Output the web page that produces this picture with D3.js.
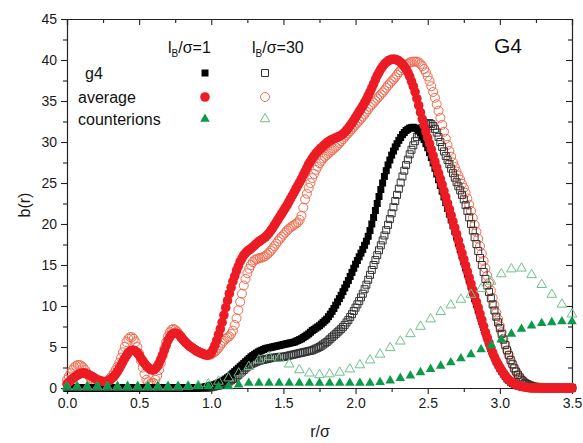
<!DOCTYPE html>
<html><head><meta charset="utf-8">
<script src="https://cdn.jsdelivr.net/npm/d3@7"></script>
<style>html,body{margin:0;padding:0;background:#fff;}svg{display:block;font-family:"Liberation Sans",Arial,sans-serif;}</style>
</head><body>
<svg id="chart" width="583" height="443"></svg>
<script>
// sampling grids (r/σ)
const denseStep = 0.0125;  // dense series: one value every 0.0125 from r=0
const sparseStep = 0.07;   // counterion series: one value every 0.07 from r=0

// average, lB/σ=1 (filled red circles)
const avgL1 = [
0.5,0.7,0.9,1.1,1.3,1.45,1.6,1.7,1.8,1.85,1.8,1.7,1.6,1.5,1.4,1.25,1.1,1.0,0.9,0.85,
0.8,0.78,0.8,0.88,1.0,1.2,1.4,1.7,2.0,2.4,2.8,3.2,3.6,3.95,4.3,4.5,4.6,4.6,4.5,4.3,
4.0,3.65,3.3,3.0,2.7,2.5,2.3,2.2,2.2,2.35,2.6,3.0,3.5,4.05,4.6,5.2,5.8,6.2,6.5,6.65,
6.7,6.65,6.5,6.25,6.0,5.75,5.5,5.3,5.1,4.95,4.8,4.65,4.5,4.4,4.3,4.2,4.1,4.05,4.0,4.1,
4.3,4.7,5.2,5.8,6.5,7.2,8.0,8.9,9.8,10.65,11.5,12.25,13.0,13.65,14.3,14.85,15.4,15.8,16.2,16.45,
16.7,16.85,17.0,17.2,17.4,17.6,17.8,17.95,18.1,18.25,18.4,18.65,18.9,19.2,19.5,19.85,20.2,20.55,20.9,21.25,
21.6,21.95,22.3,22.7,23.1,23.5,23.9,24.3,24.7,25.1,25.5,25.95,26.4,26.85,27.3,27.65,28.0,28.3,28.6,28.85,
29.1,29.3,29.5,29.7,29.9,30.05,30.2,30.3,30.4,30.5,30.6,30.7,30.8,31.0,31.2,31.45,31.7,32.0,32.3,32.65,
33.0,33.35,33.7,34.05,34.4,34.8,35.2,35.65,36.1,36.6,37.1,37.6,38.1,38.5,38.9,39.2,39.5,39.7,39.9,40.0,
40.1,40.1,40.1,40.0,39.9,39.7,39.5,39.2,38.9,38.5,38.0,37.4,36.8,36.1,35.3,34.45,33.6,32.8,32.0,31.25,
30.5,29.8,29.1,28.35,27.6,26.9,26.2,25.5,24.8,24.05,23.3,22.55,21.8,21.05,20.3,19.55,18.8,18.0,17.2,16.45,
15.7,14.95,14.2,13.45,12.7,11.95,11.2,10.5,9.8,9.05,8.3,7.55,6.8,6.15,5.5,4.9,4.3,3.8,3.3,2.9,
2.5,2.15,1.8,1.5,1.2,1.0,0.8,0.65,0.5,0.4,0.3,0.25,0.2,0.15,0.1,0.07,0.05,0.02,0,0,
0,0,0,0,0,0,0,0,0,0,0,0,0,0,0,0,0,0,0,0,0];

// average, lB/σ=30 (open red circles)
const avgL30 = [
1.0,1.4,1.8,2.2,2.5,2.7,2.8,2.8,2.7,2.5,2.2,1.85,1.5,1.2,0.9,0.75,0.6,0.55,0.5,0.55,
0.6,0.7,0.8,1.0,1.2,1.5,1.8,2.2,2.6,3.1,3.7,4.35,5.0,5.6,6.0,6.2,6.2,6.0,5.6,5.0,
4.2,3.35,2.5,1.7,1.0,0.7,0.5,0.5,0.6,1.0,1.5,2.2,3.0,3.9,4.8,5.6,6.3,6.8,7.1,7.2,
7.1,6.9,6.6,6.3,6.0,5.75,5.5,5.3,5.1,4.95,4.8,4.65,4.5,4.4,4.3,4.2,4.1,4.05,4.0,4.05,
4.1,4.25,4.4,4.65,4.9,5.2,5.5,5.75,6.0,6.15,6.3,6.6,7.0,7.7,8.5,9.5,10.5,11.5,12.5,13.3,
14.0,14.55,15.0,15.35,15.6,15.7,15.8,15.85,15.9,16.0,16.1,16.3,16.5,16.75,17.0,17.3,17.6,17.9,18.2,18.45,
18.7,18.95,19.2,19.4,19.6,19.75,19.9,20.05,20.2,20.5,21.0,22.0,23.0,23.7,24.4,25.0,25.6,26.1,26.6,27.0,
27.4,27.7,28.0,28.2,28.4,28.6,28.8,29.0,29.2,29.4,29.6,29.85,30.1,30.35,30.6,30.85,31.1,31.35,31.6,31.85,
32.1,32.35,32.6,32.85,33.1,33.4,33.7,34.0,34.3,34.55,34.8,35.05,35.3,35.55,35.8,36.05,36.3,36.6,36.9,37.15,
37.4,37.65,37.9,38.2,38.5,38.75,39.0,39.2,39.4,39.55,39.7,39.75,39.8,39.8,39.8,39.7,39.5,39.25,38.9,38.5,
38.0,37.45,36.8,36.1,35.4,34.6,33.8,32.95,32.1,31.25,30.4,29.65,28.9,28.2,27.5,26.95,26.4,25.9,25.4,24.9,
24.4,23.8,23.1,22.35,21.6,20.75,19.9,19.05,18.2,17.3,16.4,15.5,14.6,13.7,12.8,11.9,11.0,10.1,9.2,8.4,
7.6,6.8,6.0,5.3,4.6,4.0,3.4,2.9,2.4,2.0,1.6,1.3,1.0,0.8,0.6,0.47,0.35,0.27,0.2,0.15,
0.1,0.07,0.05,0.02,0,0,0,0,0,0,0,0,0,0,0,0,0,0,0,0,0];

// g4, lB/σ=1 (filled black squares)
const g4L1 = [
0,0,0,0,0,0,0,0,0,0,0,0,0,0,0,0,0,0,0,0,
0,0,0,0,0,0,0,0,0,0,0,0,0,0,0,0,0,0,0,0,
0,0,0,0,0,0,0,0,0,0,0,0,0,0,0,0,0,0,0,0,
0,0,0,0,0,0,0,0,0,0,0,0,0,0.02,0.05,0.07,0.1,0.15,0.2,0.25,
0.3,0.35,0.4,0.5,0.6,0.7,0.8,0.95,1.1,1.25,1.4,1.6,1.8,2.0,2.2,2.4,2.6,2.8,3.0,3.2,
3.4,3.6,3.8,3.95,4.1,4.25,4.4,4.5,4.6,4.7,4.8,4.85,4.9,4.95,5.0,5.05,5.1,5.15,5.2,5.25,
5.3,5.35,5.4,5.45,5.5,5.55,5.6,5.7,5.8,5.9,6.0,6.15,6.3,6.45,6.6,6.8,7.0,7.15,7.3,7.45,
7.6,7.8,8.0,8.2,8.4,8.7,9.0,9.35,9.7,10.1,10.5,10.9,11.3,11.75,12.2,12.65,13.1,13.6,14.1,14.6,
15.1,15.55,16.0,16.45,16.9,17.4,17.9,18.5,19.2,20.0,20.8,21.65,22.5,23.35,24.2,25.0,25.8,26.5,27.2,27.8,
28.4,28.9,29.4,29.8,30.2,30.55,30.9,31.15,31.4,31.55,31.7,31.75,31.8,31.7,31.6,31.35,31.1,30.7,30.3,29.8,
29.3,28.7,28.1,27.45,26.8,26.1,25.4,24.7,24.0,23.3,22.6,21.9,21.2,20.5,19.8,19.1,18.4,17.65,16.9,16.15,
15.4,14.65,13.9,13.15,12.4,11.65,10.9,10.2,9.5,8.8,8.1,7.4,6.7,6.05,5.4,4.8,4.2,3.7,3.2,2.8,
2.4,2.05,1.7,1.4,1.1,0.9,0.7,0.55,0.4,0.32,0.25,0.2,0.15,0.12,0.1,0.07,0.05,0.02,0,0,
0,0,0,0,0,0,0,0,0,0,0,0,0,0,0,0,0,0,0,0,0];

// g4, lB/σ=30 (open black squares)
const g4L30 = [
0,0,0,0,0,0,0,0,0,0,0,0,0,0,0,0,0,0,0,0,
0,0,0,0,0,0,0,0,0,0,0,0,0,0,0,0,0,0,0,0,
0,0,0,0,0,0,0,0,0,0,0,0,0,0,0,0,0,0,0,0,
0,0,0,0,0,0,0,0,0,0,0,0,0,0,0,0,0,0.02,0.05,0.07,
0.1,0.15,0.2,0.25,0.3,0.35,0.4,0.5,0.6,0.7,0.8,0.95,1.1,1.25,1.4,1.6,1.8,2.0,2.2,2.4,
2.6,2.75,2.9,3.0,3.1,3.2,3.3,3.35,3.4,3.45,3.5,3.55,3.6,3.65,3.7,3.7,3.7,3.75,3.8,3.8,
3.8,3.85,3.9,3.95,4.0,4.05,4.1,4.15,4.2,4.25,4.3,4.35,4.4,4.45,4.5,4.55,4.6,4.7,4.8,4.9,
5.0,5.15,5.3,5.45,5.6,5.8,6.0,6.2,6.4,6.6,6.8,7.0,7.2,7.45,7.7,8.0,8.3,8.65,9.0,9.4,
9.8,10.2,10.6,11.05,11.5,12.05,12.6,13.2,13.8,14.4,15.0,15.6,16.2,16.8,17.4,18.0,18.6,19.25,19.9,20.6,
21.3,22.05,22.8,23.55,24.3,25.05,25.8,26.5,27.2,27.85,28.5,29.05,29.6,30.1,30.6,31.0,31.4,31.7,32.0,32.15,
32.3,32.3,32.2,31.95,31.6,31.15,30.6,30.0,29.4,28.85,28.3,27.8,27.3,26.75,26.2,25.65,25.1,24.6,24.1,23.55,
23.0,22.3,21.6,20.8,20.0,19.2,18.4,17.55,16.7,15.85,15.0,14.15,13.3,12.5,11.7,10.95,10.2,9.45,8.7,8.0,
7.3,6.6,5.9,5.25,4.6,4.0,3.4,2.9,2.4,2.0,1.6,1.3,1.0,0.8,0.6,0.5,0.4,0.3,0.2,0.15,
0.1,0.07,0.05,0.02,0,0,0,0,0,0,0,0,0,0,0,0,0,0,0,0,0];

// counterions, lB/σ=1 (filled green triangles)
const ciL1 = [0.2,0.2,0.2,0.2,0.2,0.2,0.2,0.2,0.2,0.2,0.2,0.2,0.2,0.2,0.2,0.2,0.2,0.4,0.6,0.6,
0.6,0.6,0.6,0.6,0.6,0.6,0.6,0.6,0.6,0.6,0.6,0.7,0.9,1.2,1.5,1.9,2.3,2.7,3.1,3.6,
4.1,4.7,5.2,5.9,6.6,7.2,7.6,7.9,8.0,8.1,8.1];

// counterions, lB/σ=30 (open green triangles)
const ciL30 = [0.1,0.1,0.1,0.1,0.1,0.1,0.1,0.1,0.1,0.1,0.1,0.1,0.2,0.3,0.5,0.8,1.2,1.8,2.6,3.4,
3.8,3.6,2.9,2.2,1.8,1.6,1.7,1.9,2.3,2.8,3.4,4.1,4.9,5.7,6.6,7.5,8.4,9.3,10.1,10.8,
11.4,12.1,13.0,13.9,14.5,14.6,13.8,12.6,11.4,10.2,9.0];

const xTickValues = [0, 0.5, 1.0, 1.5, 2.0, 2.5, 3.0, 3.5];
const yTickValues = [0, 5, 10, 15, 20, 25, 30, 35, 40, 45];
const legendRows = ["g4", "average", "counterions"];

const svg = d3.select("#chart");
const M = {left: 67, right: 572, top: 19, bottom: 388};
const x = d3.scaleLinear().domain([0, 3.5]).range([M.left, M.right]);
const y = d3.scaleLinear().domain([0, 45]).range([M.bottom, M.top]);

const minorX = d3.range(0, 3.5001, 0.25).filter(v => Math.abs(v*2 - Math.round(v*2)) > 1e-6);
const minorY = d3.range(2.5, 45, 5);

function styleAxis(g){
  g.selectAll(".domain").attr("stroke","#222").attr("stroke-width",1.2);
  g.selectAll(".tick line").attr("stroke","#222").attr("stroke-width",1.1);
  g.selectAll("text").attr("font-size","14px").attr("fill","#1a1a1a");
}
const gb = svg.append("g").attr("transform",`translate(0,${M.bottom})`)
  .call(d3.axisBottom(x).tickValues(xTickValues).tickFormat(d3.format(".1f")).tickSize(6).tickPadding(4));
styleAxis(gb);
svg.append("g").attr("transform",`translate(0,${M.bottom})`)
  .call(d3.axisBottom(x).tickValues(minorX).tickFormat("").tickSize(4)).call(g=>{g.select(".domain").remove();styleAxis(g);});
const gt = svg.append("g").attr("transform",`translate(0,${M.top})`)
  .call(d3.axisTop(x).tickValues(xTickValues).tickFormat("").tickSize(-6));
styleAxis(gt);
svg.append("g").attr("transform",`translate(0,${M.top})`)
  .call(d3.axisTop(x).tickValues(minorX).tickFormat("").tickSize(-4)).call(g=>{g.select(".domain").remove();styleAxis(g);});
const gl = svg.append("g").attr("transform",`translate(${M.left},0)`)
  .call(d3.axisLeft(y).tickValues(yTickValues).tickSize(6).tickPadding(4));
styleAxis(gl);
svg.append("g").attr("transform",`translate(${M.left},0)`)
  .call(d3.axisLeft(y).tickValues(minorY).tickFormat("").tickSize(4)).call(g=>{g.select(".domain").remove();styleAxis(g);});
const gr = svg.append("g").attr("transform",`translate(${M.right},0)`)
  .call(d3.axisRight(y).tickValues(yTickValues).tickFormat("").tickSize(-6));
styleAxis(gr);
svg.append("g").attr("transform",`translate(${M.right},0)`)
  .call(d3.axisRight(y).tickValues(minorY).tickFormat("").tickSize(-4)).call(g=>{g.select(".domain").remove();styleAxis(g);});

svg.append("text").attr("transform","translate(30,205) rotate(-90)").attr("text-anchor","middle")
  .attr("font-size","16px").attr("fill","#1a1a1a").text("b(r)");
svg.append("text").attr("x",320).attr("y",437).attr("text-anchor","middle")
  .attr("font-size","16px").attr("fill","#1a1a1a").text("r/σ");

const RED = "#ec1c24", RED_OPEN = "#f26a4f", GREEN = "#0c9a48", GREEN_OPEN = "#6cc28b";
const plot = svg.append("g");
const toPts = (arr, step) => arr.map((v,i)=>({r: i*step, b: v}));

const sq = d3.symbol().type(d3.symbolSquare).size(49);
const tri = d3.symbol().type(d3.symbolTriangle).size(40);

function circles(data, filled, color, rad){
  plot.append("g").selectAll("circle").data(data).join("circle")
    .attr("cx", d=>x(d.r)).attr("cy", d=>y(d.b)).attr("r", rad)
    .attr("fill", filled ? color : "none").attr("stroke", filled ? "none" : color).attr("stroke-width", 1);
}
function symbols(data, gen, filled, color){
  plot.append("g").selectAll("path").data(data).join("path")
    .attr("transform", d=>`translate(${x(d.r)},${y(d.b)})`).attr("d", gen)
    .attr("fill", filled ? color : "none").attr("stroke", filled ? "none" : color).attr("stroke-width", 1);
}

circles(toPts(avgL30, denseStep), false, RED_OPEN, 4.5);
symbols(toPts(g4L30, denseStep), sq, false, "#333");
symbols(toPts(g4L1, denseStep), sq, true, "#000");
circles(toPts(avgL1, denseStep), true, RED, 4.8);
symbols(toPts(ciL30, sparseStep), tri, false, GREEN_OPEN);
symbols(toPts(ciL1, sparseStep), tri, true, GREEN);

const lg = svg.append("g").attr("fill","#111");
const h1 = lg.append("text").attr("x",168).attr("y",53).attr("font-size","16px");
h1.append("tspan").text("l");
h1.append("tspan").attr("font-size","10px").attr("dy",4).text("B");
h1.append("tspan").attr("dy",-4).text("/σ=1");
const h2 = lg.append("text").attr("x",252).attr("y",53).attr("font-size","16px");
h2.append("tspan").text("l");
h2.append("tspan").attr("font-size","10px").attr("dy",4).text("B");
h2.append("tspan").attr("dy",-4).text("/σ=30");
const rowsY = [73, 97, 119];
const rowsX = [85, 78, 78];
legendRows.forEach((t,i)=>{
  lg.append("text").attr("x",rowsX[i]).attr("y",rowsY[i]+6).attr("font-size","16px").text(t);
});
const c1 = 205, c2 = 265;
lg.append("path").attr("transform",`translate(${c1},${rowsY[0]})`).attr("d",sq).attr("fill","#000");
lg.append("path").attr("transform",`translate(${c2},${rowsY[0]})`).attr("d",sq).attr("fill","none").attr("stroke","#333");
lg.append("circle").attr("cx",c1).attr("cy",rowsY[1]).attr("r",4.8).attr("fill",RED);
lg.append("circle").attr("cx",c2).attr("cy",rowsY[1]).attr("r",4.5).attr("fill","none").attr("stroke",RED_OPEN);
lg.append("path").attr("transform",`translate(${c1},${rowsY[2]})`).attr("d",tri).attr("fill",GREEN);
lg.append("path").attr("transform",`translate(${c2},${rowsY[2]})`).attr("d",tri).attr("fill","none").attr("stroke",GREEN_OPEN);

svg.append("text").attr("x",494).attr("y",53).attr("font-size","21px").attr("fill","#111").text("G4");
</script>
</body></html>
